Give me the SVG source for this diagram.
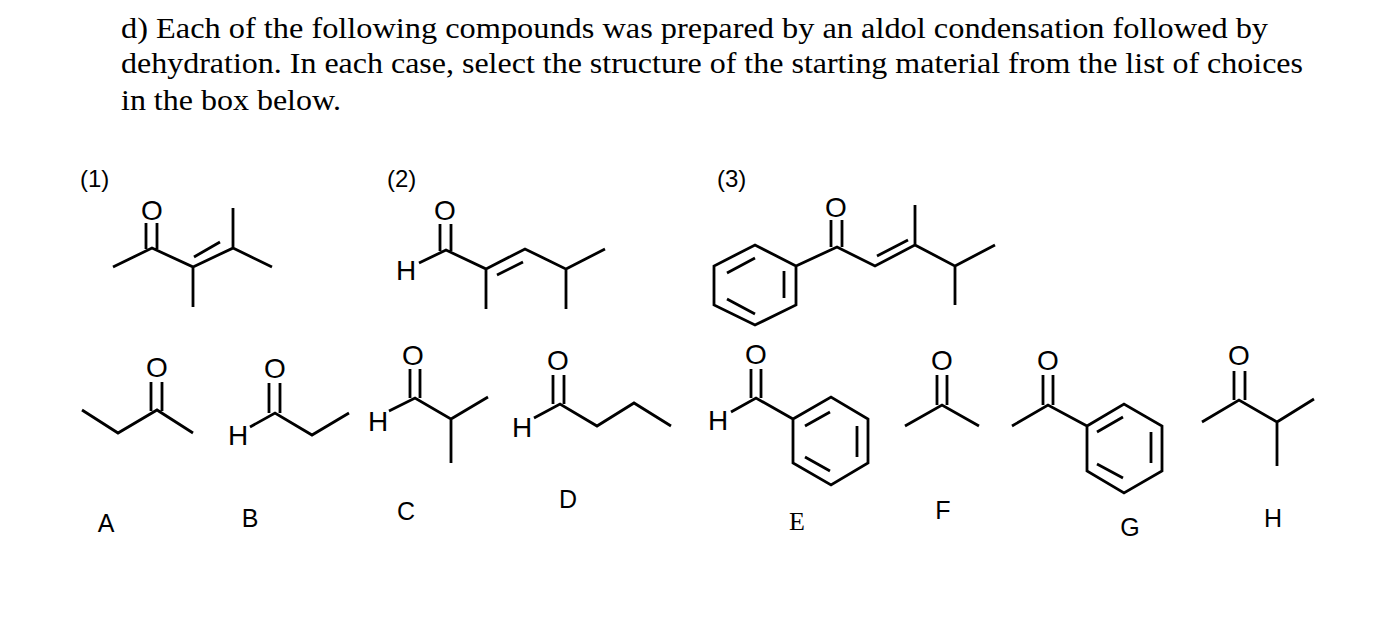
<svg xmlns="http://www.w3.org/2000/svg" width="1386" height="633" viewBox="0 0 1386 633">
<style>
.b{stroke:#000;stroke-width:2.8;fill:none;stroke-linecap:butt;stroke-linejoin:miter}
.t{font-family:"Liberation Serif",serif;font-size:30px;fill:#000}
.a{font-family:"Liberation Sans",Arial,sans-serif;font-size:28px;fill:#000;text-anchor:middle}
.l{font-family:"Liberation Sans",Arial,sans-serif;font-size:24px;fill:#000}
.c{font-family:"Liberation Sans",Arial,sans-serif;font-size:25px;fill:#000;text-anchor:middle}
.s{font-family:"Liberation Serif",serif;font-size:26px;fill:#000;text-anchor:middle}
</style>
<rect width="1386" height="633" fill="#fff"/>
<g id="question">
<text class="t" x="121" y="38" textLength="1147" lengthAdjust="spacingAndGlyphs">d)  Each of the following compounds was prepared by an aldol condensation followed by</text>
<text class="t" x="121" y="73" textLength="1182" lengthAdjust="spacingAndGlyphs">dehydration. In each case, select the structure of the starting material from the list of choices</text>
<text class="t" x="121" y="110" textLength="220" lengthAdjust="spacingAndGlyphs">in the box below.</text>
</g>
<g id="p1">
<text class="l" x="80" y="187">(1)</text>
<text class="a" x="152" y="220">O</text>
<path class="b" d="M146,223V249M157,223V249M113,267L152,248L193,267V307M193,267L233,248V208M233,248L272,267M194,257L220,242"/>
</g>
<g id="p2">
<text class="l" x="387" y="187">(2)</text>
<text class="a" x="445" y="220">O</text>
<text class="a" x="406" y="280">H</text>
<path class="b" d="M440,224V251M451,224V251M419,263L446,250L486,269V309M486,269L525,249L566,269V309M566,269L605,249M497,275L523,262"/>
</g>
<g id="p3">
<text class="l" x="717" y="187">(3)</text>
<text class="a" x="836" y="217">O</text>
<path class="b" d="M831,220V247M842,220V247M796,266L755,245L714,266V305L755,325L796,305ZM727,273L755,258M784,271V298M727,299L755,314M796,266L837,247L875,266L915,245V205M915,245L955,266V305M955,266L995,245M877,256L908,240"/>
</g>
<g id="A">
<text class="a" x="157" y="377">O</text>
<path class="b" d="M151,382V411M162,382V411M82,410L118,433L157,410L193,433"/>
<text class="c" x="106" y="532">A</text>
</g>
<g id="B">
<text class="a" x="275" y="378">O</text>
<text class="a" x="238" y="445">H</text>
<path class="b" d="M269,383V413M280,383V413M250,427L275,413L312,435L349,413"/>
<text class="c" x="250" y="527">B</text>
</g>
<g id="C">
<text class="a" x="413" y="365">O</text>
<text class="a" x="378" y="431">H</text>
<path class="b" d="M410,369V398M420,369V398M389,411L415,398L451,419V463M451,419L488,397"/>
<text class="c" x="406" y="520">C</text>
</g>
<g id="D">
<text class="a" x="558" y="370">O</text>
<text class="a" x="522" y="437">H</text>
<path class="b" d="M553,375V404M564,375V404M534,418L560,404L597,426L634,403L671,426"/>
<text class="c" x="568" y="508">D</text>
</g>
<g id="E">
<text class="a" x="756" y="364">O</text>
<text class="a" x="718" y="430">H</text>
<path class="b" d="M751,369V398M761,369V398M731,412L756,398L793,419M793,419L831,397L868,419V463L831,485L793,463ZM805,426L830,412M857,426V457M805,457L830,471"/>
<text class="s" x="797" y="530">E</text>
</g>
<g id="F">
<text class="a" x="942" y="370">O</text>
<path class="b" d="M937,375V405M947,375V405M905,426L942,405L979,426"/>
<text class="c" x="943" y="519">F</text>
</g>
<g id="G">
<text class="a" x="1048" y="370">O</text>
<path class="b" d="M1043,375V405M1053,375V405M1012,426L1048,405L1087,426M1087,426L1124,404L1162,426V471L1124,493L1087,471ZM1097,432L1123,417M1151,432V463M1097,464L1123,478"/>
<text class="c" x="1130" y="536">G</text>
</g>
<g id="H">
<text class="a" x="1239" y="365">O</text>
<path class="b" d="M1234,371V400M1245,371V400M1202,422L1239,400L1277,422V466M1277,422L1314,399"/>
<text class="c" x="1273" y="527">H</text>
</g>
<g id="connectors"/>
</svg>
